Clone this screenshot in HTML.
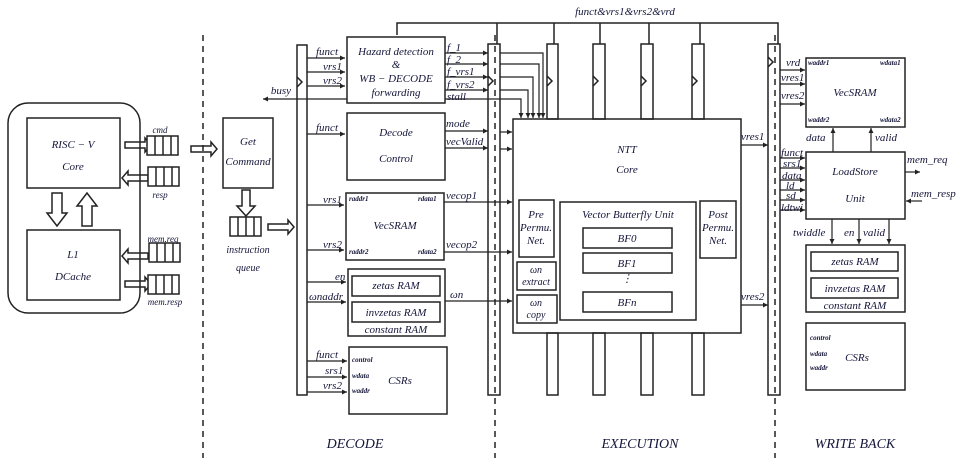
<!DOCTYPE html>
<html><head><meta charset="utf-8"><style>
body{margin:0;background:#fff}
svg text{font-family:"Liberation Serif",serif;font-style:italic;fill:#14163a}
</style></head><body>
<svg width="966" height="462" viewBox="0 0 966 462" xmlns="http://www.w3.org/2000/svg">
<defs>
<marker id="a" markerWidth="6" markerHeight="6" refX="5" refY="3" orient="auto" markerUnits="userSpaceOnUse"><path d="M0,0.5 L5,3 L0,5.5z" fill="#222"/></marker>
<g id="q"><rect x="0" y="0" width="31" height="19" fill="#fff" stroke="#222" stroke-width="1.5"/><line x1="8" y1="0" x2="8" y2="19" stroke="#222" stroke-width="1.5"/><line x1="16" y1="0" x2="16" y2="19" stroke="#222" stroke-width="1.5"/><line x1="24" y1="0" x2="24" y2="19" stroke="#222" stroke-width="1.5"/></g>
</defs>
<g fill="none" stroke="#222" stroke-width="1.5">
<rect x="8" y="103" width="132" height="210" rx="20"/>
<rect x="27" y="118" width="93" height="70"/>
<rect x="27" y="230" width="93" height="70"/>
<path d="M52,193 h10 v20 h5 l-10,13 l-10,-13 h5z"/>
<path d="M82,226 h10 v-20 h5 l-10,-13 l-10,13 h5z"/>
<path d="M125,142 h20 v-4 l6,7 l-6,7 v-4 h-20z"/>
<path d="M148,175 h-20 v-4 l-6,7 l6,7 v-4 h20z"/>
<path d="M148,253 h-20 v-4 l-6,7 l6,7 v-4 h20z"/>
<path d="M125,281 h20 v-4 l6,7 l-6,7 v-4 h-20z"/>
<path d="M191,146 h20 v-4 l6,7 l-6,7 v-4 h-20z"/>
<rect x="223" y="118" width="50" height="70"/>
<path d="M242,190 h8 v16 h5 l-9,10 l-9,-10 h5z"/>
<path d="M268,224 h20 v-4 l6,7 l-6,7 v-4 h-20z"/>
</g>
<use href="#q" x="147" y="136"/><use href="#q" x="148" y="167"/><use href="#q" x="149" y="243"/><use href="#q" x="148" y="275"/><use href="#q" x="230" y="217"/>
<g stroke="#222" stroke-width="1.5" stroke-dasharray="6,5"><line x1="203" y1="35" x2="203" y2="458"/><line x1="495" y1="35" x2="495" y2="458"/><line x1="775" y1="35" x2="775" y2="458"/></g>
<g fill="none" stroke="#222" stroke-width="1.5">
<rect x="297" y="45" width="10" height="350"/>
<rect x="488" y="44" width="12" height="351"/>
<rect x="768" y="44" width="12" height="351"/>
<rect x="547" y="44" width="11" height="75"/><rect x="593" y="44" width="12" height="75"/><rect x="641" y="44" width="12" height="75"/><rect x="692" y="44" width="12" height="75"/>
<rect x="547" y="333" width="11" height="62"/><rect x="593" y="333" width="12" height="62"/><rect x="641" y="333" width="12" height="62"/><rect x="692" y="333" width="12" height="62"/>
<path d="M297,77 l5,5 l-5,5 M488,76 l5,5 l-5,5 M768,57 l5,5 l-5,5 M547,76 l5,5 l-5,5 M593,76 l5,5 l-5,5 M641,76 l5,5 l-5,5 M692,76 l5,5 l-5,5"/>
<path d="M397,35 V23 H778 V44 M497,23 V44 M554,23 V44 M600,23 V44 M649,23 V44 M700,23 V44"/>
<rect x="347" y="37" width="98" height="66"/>
<rect x="347" y="113" width="98" height="67"/>
<rect x="346" y="193" width="98" height="67"/>
<rect x="348" y="269" width="97" height="67"/><rect x="352" y="276" width="88" height="20"/><rect x="352" y="302" width="88" height="20"/>
<rect x="349" y="347" width="98" height="67"/>
<rect x="513" y="119" width="228" height="214"/>
<rect x="519" y="200" width="35" height="57"/><rect x="517" y="262" width="39" height="28"/><rect x="517" y="295" width="40" height="28"/>
<rect x="560" y="202" width="136" height="118"/>
<rect x="583" y="228" width="89" height="20"/><rect x="583" y="253" width="89" height="20"/><rect x="583" y="292" width="89" height="20"/>
<rect x="700" y="201" width="36" height="57"/>
<rect x="806" y="58" width="99" height="69"/><rect x="806" y="152" width="99" height="67"/>
<rect x="806" y="245" width="99" height="67"/><rect x="811" y="252" width="87" height="19"/><rect x="811" y="278" width="87" height="20"/>
<rect x="806" y="323" width="99" height="67"/>
</g>
<g fill="none" stroke="#222" stroke-width="1.2" marker-end="url(#a)">
<path d="M307,58 H345"/><path d="M307,72 H345"/><path d="M307,86 H345"/>
<path d="M347,99 H263"/>
<path d="M307,134 H345"/>
<path d="M307,205 H344"/><path d="M307,250 H344"/>
<path d="M307,282 H346"/><path d="M307,302 H346"/>
<path d="M307,361 H347"/><path d="M307,377 H347"/><path d="M307,392 H347"/>
<path d="M445,53 H488"/><path d="M445,64 H488"/><path d="M445,77 H488"/><path d="M445,90 H488"/>
<path d="M445,99 H521 V118"/>
<path d="M500,53 H543 V118"/><path d="M500,64 H539 V118"/><path d="M500,77 H533 V118"/><path d="M500,90 H528 V118"/>
<path d="M445,131 H488"/><path d="M445,148 H488"/><path d="M500,132 H512"/><path d="M500,149 H512"/>
<path d="M444,202 H512"/><path d="M444,252 H512"/><path d="M445,301 H512"/>
<path d="M741,145 H768"/><path d="M741,305 H768"/>
<path d="M780,70 H805"/><path d="M780,84 H805"/><path d="M780,104 H805"/>
<path d="M780,158 H805"/><path d="M780,168 H805"/><path d="M780,180 H805"/><path d="M780,190 H805"/><path d="M780,200 H805"/><path d="M780,210 H805"/>
<path d="M833,152 V128"/><path d="M871,152 V128"/>
<path d="M832,219 V244"/><path d="M859,219 V244"/><path d="M889,219 V244"/>
<path d="M905,172 H920"/><path d="M922,201 H906"/>
</g>
<g font-size="11" text-anchor="middle">
<text x="73" y="148">RISC − V</text><text x="73" y="170">Core</text>
<text x="73" y="258">L1</text><text x="73" y="280">DCache</text>
<text x="160" y="133" font-size="9">cmd</text><text x="160" y="198" font-size="9">resp</text>
<text x="163" y="242" font-size="9">mem.req</text><text x="165" y="305" font-size="9">mem.resp</text>
<text x="248" y="145">Get</text><text x="248" y="165">Command</text>
<text x="248" y="253" font-size="10">instruction</text><text x="248" y="271" font-size="10">queue</text>
<text x="281" y="94">busy</text>
<text x="396" y="55">Hazard detection</text><text x="396" y="68">&amp;</text><text x="396" y="82">WB − DECODE</text><text x="396" y="96">forwarding</text>
<text x="396" y="136">Decode</text><text x="396" y="162">Control</text>
<text x="395" y="229">VecSRAM</text>
<text x="396" y="289">zetas RAM</text><text x="396" y="316">invzetas RAM</text><text x="396" y="333">constant RAM</text>
<text x="400" y="384">CSRs</text>
<text x="627" y="153">NTT</text><text x="627" y="173">Core</text>
<text x="536" y="218">Pre</text><text x="536" y="231">Permu.</text><text x="536" y="244">Net.</text>
<text x="536" y="273" font-size="10">ωn</text><text x="536" y="285" font-size="10">extract</text>
<text x="536" y="306" font-size="10">ωn</text><text x="536" y="318" font-size="10">copy</text>
<text x="628" y="218">Vector Butterfly Unit</text>
<text x="627" y="242">BF0</text><text x="627" y="267">BF1</text><text x="627" y="282">⋮</text><text x="627" y="306">BFn</text>
<text x="718" y="218">Post</text><text x="718" y="231">Permu.</text><text x="718" y="244">Net.</text>
<text x="625" y="15">funct&amp;vrs1&amp;vrs2&amp;vrd</text>
<text x="855" y="96">VecSRAM</text>
<text x="855" y="175">LoadStore</text><text x="855" y="202">Unit</text>
<text x="855" y="265">zetas RAM</text><text x="855" y="292">invzetas RAM</text><text x="855" y="309">constant RAM</text>
<text x="857" y="361">CSRs</text>
<text x="355" y="448" font-size="14">DECODE</text><text x="640" y="448" font-size="14">EXECUTION</text><text x="855" y="448" font-size="14">WRITE BACK</text>
</g>
<g font-size="11">
<text x="316" y="55">funct</text><text x="323" y="70">vrs1</text><text x="323" y="84">vrs2</text>
<text x="316" y="131">funct</text><text x="323" y="203">vrs1</text><text x="323" y="248">vrs2</text>
<text x="335" y="280">en</text><text x="309" y="300">ωnaddr</text>
<text x="316" y="358">funct</text><text x="325" y="374">srs1</text><text x="323" y="389">vrs2</text>
<text x="447" y="51">f_1</text><text x="447" y="63">f_2</text><text x="447" y="75">f_vrs1</text><text x="447" y="88">f_vrs2</text><text x="447" y="100">stall</text>
<text x="446" y="127">mode</text><text x="446" y="145">vecValid</text>
<text x="446" y="199">vecop1</text><text x="446" y="248">vecop2</text><text x="450" y="298">ωn</text>
<text x="741" y="140">vres1</text><text x="741" y="300">vres2</text>
<text x="786" y="66">vrd</text><text x="781" y="81">vres1</text><text x="781" y="99">vres2</text>
<text x="781" y="156">funct</text><text x="783" y="167">srs1</text><text x="782" y="179">data</text><text x="786" y="189">ld</text><text x="786" y="199">sd</text><text x="781" y="211">ldtwi</text>
<text x="806" y="141">data</text><text x="875" y="141">valid</text>
<text x="793" y="236">twiddle</text><text x="844" y="236">en</text><text x="863" y="236">valid</text>
<text x="907" y="163">mem_req</text><text x="911" y="197">mem_resp</text>
</g>
<g font-size="7" font-weight="bold">
<text x="349" y="201">raddr1</text><text x="418" y="201">rdata1</text><text x="349" y="254">raddr2</text><text x="418" y="254">rdata2</text>
<text x="352" y="362">control</text><text x="352" y="378">wdata</text><text x="352" y="393">waddr</text>
<text x="808" y="65">waddr1</text><text x="880" y="65">wdata1</text><text x="808" y="122">waddr2</text><text x="880" y="122">wdata2</text>
<text x="810" y="340">control</text><text x="810" y="356">wdata</text><text x="810" y="370">waddr</text>
</g>
</svg>
</body></html>
